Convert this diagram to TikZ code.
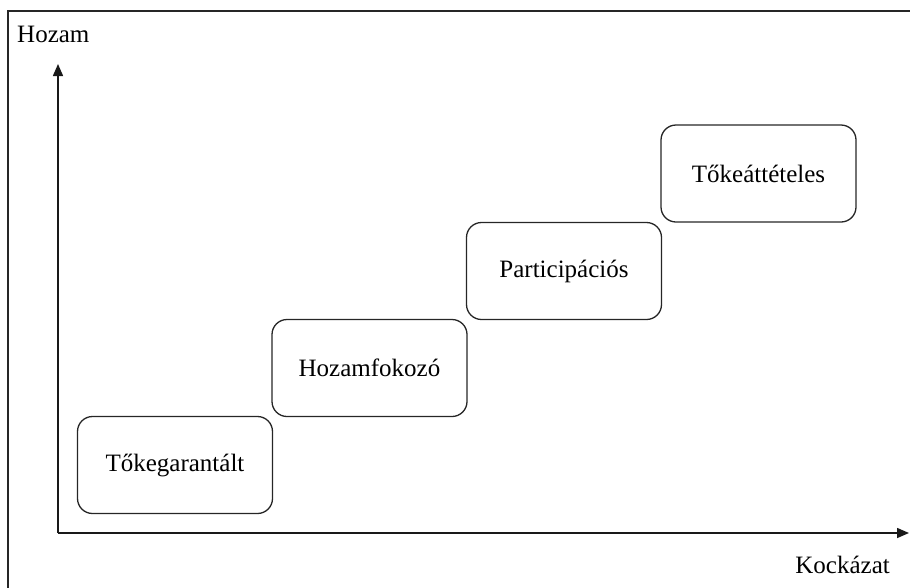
\documentclass[tikz,border=0pt]{standalone}
\usepackage{fontspec}
\setmainfont{Liberation Serif}
\usetikzlibrary{arrows.meta}
\begin{document}
\begin{tikzpicture}[x=1pt,y=-1pt,
  box/.style={draw=black!85, line width=1.3pt, rounded corners=15pt,
    minimum width=195pt, minimum height=97pt, inner sep=0pt,
    font=\fontsize{25}{29}\selectfont},
  axis/.style={draw=black!90, line width=1.5pt, -{Triangle[length=12pt,width=10pt]}},
  label/.style={inner sep=0pt, font=\fontsize{25}{29}\selectfont}]
\useasboundingbox (0,0) rectangle (910,587);
% outer frame
\draw[line width=2.2pt, black!85] (8,11) rectangle (918,596);
% axes
\coordinate (o) at (58,533);
\coordinate (ytop) at (58,64);
\coordinate (xend) at (909,533);
\draw[axis] (o) -- (ytop);
\draw[axis] (o) -- (xend);
\node[label, anchor=base west] (hozam) at (17,42) {Hozam};
\node[label, anchor=base east] (kockazat) at (890,573) {Kockázat};
% fund categories, stepping up in risk and return
\node[box] (b1) at (175,465) {Tőkegarantált};
\node[box] (b2) at (369.5,368) {Hozamfokozó};
\node[box] (b3) at (564,271) {Participációs};
\node[box] (b4) at (758.5,173.5) {Tőkeáttételes};
\end{tikzpicture}
\end{document}
